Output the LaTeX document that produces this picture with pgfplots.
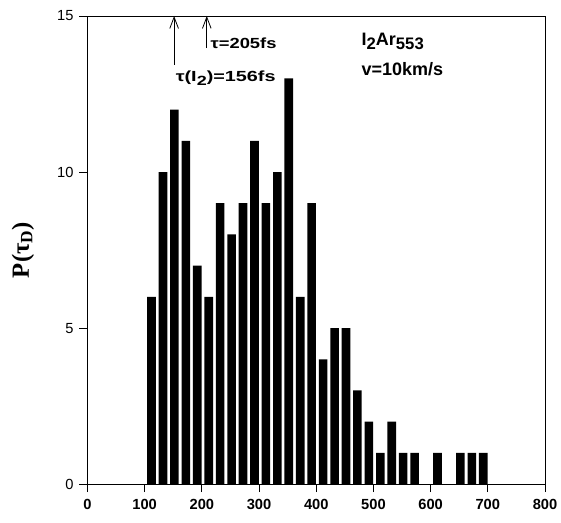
\documentclass[border=0pt]{standalone}
\usepackage{pgfplots}
\pgfplotsset{compat=1.18}
\usepackage{fontspec}
\setmainfont{Liberation Sans}
\newfontfamily\serifb{Liberation Serif}
\usetikzlibrary{arrows.meta}
\newcommand{\lsub}[2]{\raisebox{-0.45ex}{\fontsize{#1}{#1}\selectfont #2}}
\begin{document}
\begin{tikzpicture}
\begin{axis}[name=a, scale only axis, width=343.1pt, height=351pt,
  xmin=0, xmax=800, ymin=0, ymax=15,
  xtick={0,100,...,800}, ytick={0,5,10,15},
  tick align=outside, tick pos=left,
  axis line style={line width=0.7pt},
  every tick/.style={line width=0.7pt, black},
  major tick length=6pt,
  /pgf/number format/assume math mode=true,
  xticklabel style={font=\bfseries\fontsize{11}{13}\selectfont, yshift=-2pt},
  yticklabel style={font=\fontsize{11}{13}\selectfont, xshift=-1pt},
  ylabel={\serifb\bfseries P(τ\textsubscript{D})},
  every axis y label/.style={at={(axis description cs:-0.141,0.5)}, rotate=90, anchor=center, font=\fontsize{18.5}{20}\selectfont},
  clip=false]
\addplot[ybar, bar width=15, fill=black, draw=none] coordinates {
(112,6) (132,10) (152,12) (172,11) (192,7) (212,6) (232,9) (252,8) (272,9) (292,11)
(312,9) (332,10) (352,13) (372,6) (392,9) (412,4) (432,5) (452,5) (472,3) (492,2)
(512,1) (532,2) (552,1) (572,1) (612,1) (652,1) (672,1) (692,1)
};
\draw[line width=0.6pt, -{Straight Barb[length=8.5pt,width=6.5pt]}] (axis cs:151.5,13.43) -- (axis cs:151.5,15);
\draw[line width=0.6pt, -{Straight Barb[length=8.5pt,width=6.5pt]}] (axis cs:208.6,13.97) -- (axis cs:208.6,15);
\draw[line width=0.7pt] (axis cs:0,0) -- ++(4pt,0pt);
\node[anchor=base west, inner sep=0pt, font=\bfseries\fontsize{11}{13}\selectfont] at (axis cs:215,13.97) {\scalebox{1.25}[1]{τ=205fs}};
\node[anchor=base west, inner sep=0pt, font=\bfseries\fontsize{11}{13}\selectfont] at (axis cs:154,12.9) {\scalebox{1.35}[1]{τ(I\lsub{10}{2})=156fs}};
\node[anchor=base west, inner sep=0pt, font=\bfseries\fontsize{13.5}{16}\selectfont] at (axis cs:479,14.07) {I\lsub{12.5}{2}Ar\lsub{12.5}{553}};
\node[anchor=base west, inner sep=0pt, font=\bfseries\fontsize{13.5}{16}\selectfont] at (axis cs:479,13.1) {v=10km/s};
\end{axis}
\pgfresetboundingbox
\path[use as bounding box] ([xshift=-65.6pt,yshift=-28.5pt]a.south west) rectangle ([xshift=12pt,yshift=12pt]a.north east);
\end{tikzpicture}
\end{document}
